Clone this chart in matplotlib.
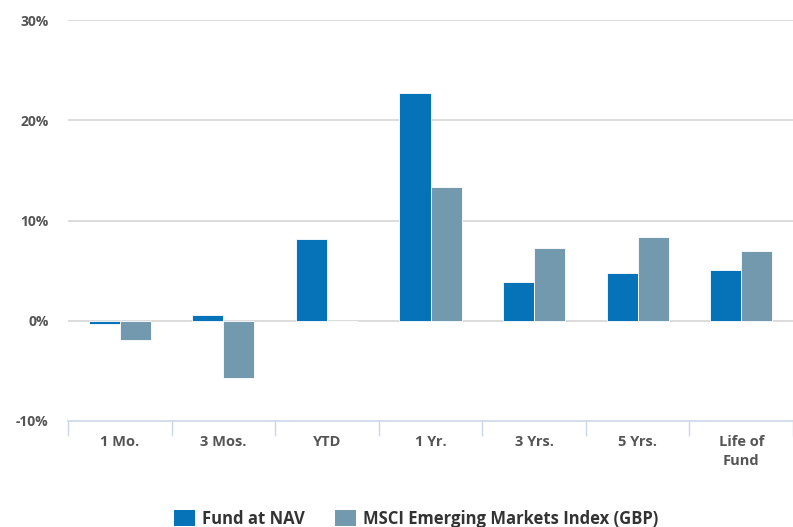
import numpy as np
import matplotlib.pyplot as plt
from matplotlib.patches import Patch

# === Datos ===
categories = ["1 Mo.", "3 Mos.", "YTD", "1 Yr.", "3 Yrs.", "5 Yrs.", "Life of\nFund"]
fund_nav = [-0.3, 0.6, 8.2, 22.7, 3.9, 4.8, 5.1]
msci_index = [-1.9, -5.7, 0.0, 13.3, 7.3, 8.4, 7.0]
series_names = ["Fund at NAV", "MSCI Emerging Markets Index (GBP)"]
y_ticks = [-10, 0, 10, 20, 30]

fund_color = "#0673b9"
index_color = "#7399ae"
text_color = "#555555"

plt.rcParams['font.family'] = ['Open Sans', 'DejaVu Sans']

fig = plt.figure(figsize=(7.93, 5.27), dpi=100)
ax = fig.add_axes([68/793, 1 - 421/527, 1 - 68/793, (421 - 20)/527])

x = np.arange(len(categories))
w = 0.3
ax.bar(x - w/2, fund_nav, width=w, color=fund_color, edgecolor="white", linewidth=0.6, zorder=3)
ax.bar(x + w/2, msci_index, width=w, color=index_color, edgecolor="white", linewidth=0.6, zorder=3)

# === Ejes ===
ax.set_xlim(-0.5, len(categories) - 0.5)
ax.set_ylim(-10, 30)
ax.set_yticks(y_ticks)
ax.set_yticklabels([f"{v}%" for v in y_ticks], color=text_color, fontsize=10, fontweight='bold')
ax.tick_params(axis='y', length=0, pad=14)

ax.set_xticks(x)
ax.set_xticklabels(categories, color=text_color, fontsize=10.5, fontweight='bold', linespacing=1.5)
ax.tick_params(axis='x', which='major', length=0, pad=10)
ax.set_xticks(np.arange(len(categories) + 1) - 0.5, minor=True)
ax.tick_params(axis='x', which='minor', length=11, color="#ccd6eb", width=1)

for v in y_ticks[1:]:
    ax.axhline(v, color="#d6d6d6", linewidth=1.2, zorder=1)

for s in ["top", "right", "left"]:
    ax.spines[s].set_visible(False)
ax.spines["bottom"].set_color("#ccd6eb")
ax.spines["bottom"].set_linewidth(1.2)

# === Leyenda ===
handles = [Patch(facecolor=fund_color, edgecolor="none"),
           Patch(facecolor=index_color, edgecolor="none")]
leg = fig.legend(handles, series_names, loc='center', bbox_to_anchor=(416/793, 1 - 519/527),
                 ncol=2, frameon=False, handlelength=1.25, handleheight=1.1,
                 columnspacing=1.8, handletextpad=0.45, prop={'size': 12, 'weight': 'bold'})
for t in leg.get_texts():
    t.set_color("#333333")

fig.savefig("out.png", dpi=100)
